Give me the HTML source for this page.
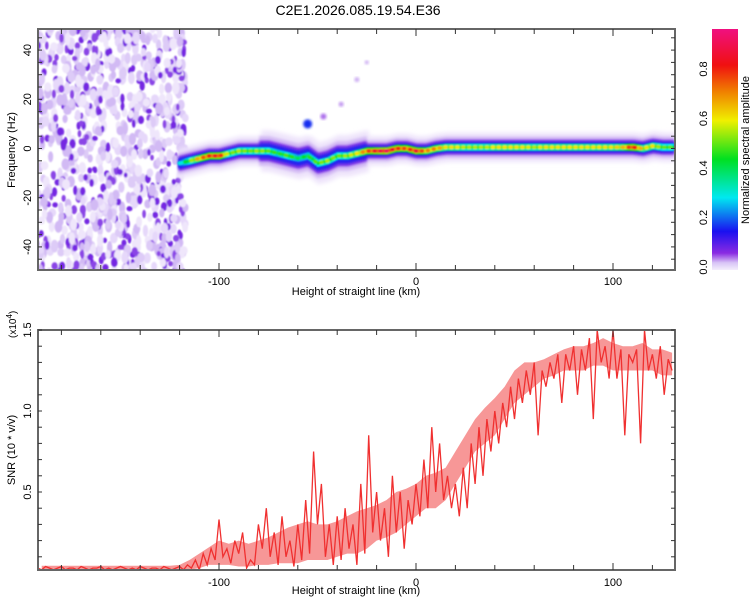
<!DOCTYPE html>
<html><head><meta charset="utf-8"><style>
body{margin:0;background:#fff;}
svg{display:block;font-family:"Liberation Sans",sans-serif;}
</style></head><body>
<svg id="root" width="750" height="600" viewBox="0 0 750 600">
<defs>
<filter id="blur0" x="-30%" y="-30%" width="160%" height="160%"><feGaussianBlur stdDeviation="0.7"/></filter>
<filter id="blur1" x="-20%" y="-20%" width="140%" height="140%"><feGaussianBlur stdDeviation="1.2"/></filter>
<filter id="blur2" x="-20%" y="-50%" width="140%" height="200%"><feGaussianBlur stdDeviation="2"/></filter>
<linearGradient id="cbgrad" x1="0" y1="1" x2="0" y2="0">
<stop offset="0" stop-color="#f4eefc"/><stop offset="0.03" stop-color="#d8c4f6"/><stop offset="0.07" stop-color="#8a2be2"/>
<stop offset="0.16" stop-color="#1a10f0"/><stop offset="0.30" stop-color="#00e8f0"/><stop offset="0.46" stop-color="#00e020"/>
<stop offset="0.62" stop-color="#f0f000"/><stop offset="0.74" stop-color="#f08000"/><stop offset="0.85" stop-color="#f01010"/>
<stop offset="1" stop-color="#f01080"/></linearGradient>
<clipPath id="clipTop"><rect x="38" y="29" width="637" height="241"/></clipPath>
<clipPath id="clipBot"><rect x="38" y="330" width="637" height="240"/></clipPath>
</defs>
<text x="358" y="15" font-size="14" text-anchor="middle">C2E1.2026.085.19.54.E36</text>
<g id="topPlot" clip-path="url(#clipTop)"></g>
<g id="botPlot" clip-path="url(#clipBot)"></g>
<g id="axes"></g>
<rect x="712" y="29" width="26" height="241" fill="url(#cbgrad)"/>
<text transform="translate(749,150) rotate(-90)" font-size="11" text-anchor="middle">Normalized spectral amplitude</text>
</svg>
<script>
// ---- data ----
const snrStartKm = -192, snrStepKm = 2;
const snrValues = [
0.03,0.02,0.04,0.03,0.02,0.03,0.04,0.02,0.03,0.03,0.02,0.04,0.03,0.02,0.03,0.03,0.04,0.02,0.03,0.02,0.03,0.04,0.03,0.02,0.03,0.02,0.04,0.03,0.02,0.03,0.03,0.02,0.04,0.03,0.02,0.03,
0.04,0.02,0.05,0.03,0.08,0.02,0.12,0.05,0.15,0.08,
0.33,0.10,0.15,0.06,0.20,0.12,0.25,0.03,0.08,0.05,
0.30,0.15,0.40,0.10,0.25,0.05,0.35,0.10,0.20,0.04,
0.30,0.08,0.45,0.12,0.75,0.30,0.55,0.10,0.30,0.05,
0.35,0.08,0.40,0.15,0.30,0.05,0.55,0.12,0.85,0.25,
0.50,0.20,0.40,0.10,0.60,0.25,0.50,0.15,0.45,0.30,
0.55,0.35,0.70,0.40,0.90,0.50,0.80,0.45,0.60,0.40,
0.55,0.35,0.65,0.40,0.80,0.55,0.90,0.60,0.95,0.75,
1.00,0.80,1.05,0.90,1.15,0.95,1.20,1.05,1.25,1.10,
1.30,0.85,1.25,1.15,1.30,1.20,1.35,1.05,1.35,1.25,
1.40,1.10,1.38,1.25,1.45,0.95,1.50,1.30,1.40,1.20,
1.50,1.20,1.38,0.85,1.35,1.30,1.38,0.80,1.50,1.25,
1.35,1.20,1.40,1.10,1.32,1.25];
const envStartKm = -190, envStepKm = 5;
const snrUpper = [0.045,0.045,0.045,0.045,0.045,0.045,0.045,0.045,0.045,0.045,0.045,0.045,0.045,0.045,
0.05,0.08,0.12,0.16,0.2,0.18,0.2,0.18,0.2,0.22,0.25,0.28,0.3,0.32,0.3,0.3,0.32,0.35,0.38,0.4,0.42,0.45,0.5,0.52,0.55,0.6,0.62,0.65,0.75,0.85,0.95,1.02,1.08,1.15,1.25,1.3,1.3,1.32,1.35,1.38,1.4,1.4,1.42,1.45,1.42,1.4,1.4,1.42,1.38,1.38,1.36];
const snrLower = [0.015,0.015,0.015,0.015,0.015,0.015,0.015,0.015,0.015,0.015,0.015,0.015,0.015,0.015,
0.02,0.02,0.03,0.05,0.05,0.05,0.04,0.04,0.05,0.05,0.06,0.06,0.06,0.08,0.08,0.08,0.1,0.12,0.12,0.15,0.2,0.22,0.25,0.3,0.35,0.4,0.4,0.45,0.55,0.65,0.75,0.8,0.85,0.95,1.05,1.1,1.15,1.2,1.22,1.25,1.25,1.25,1.28,1.28,1.25,1.25,1.25,1.25,1.25,1.22,1.22];
const ridgeStartKm = -120, ridgeStepKm = 5;
const ridgeFreq = [-6,-5,-4,-3,-3,-2,-1,-1,-1,-1,-2,-3,-4,-3,-6,-5,-3,-3,-2,-1,-1,-1,0,0,-1,-1,0,0.5,0.5,0.5,0.5,0.5,0.5,0.5,0.5,0.5,0.5,0.5,0.5,0.5,0.5,0.5,0.5,0.5,0.5,0.5,0.5,0,1,0.5,0.5];
const ridgeAmp = [0.3,0.5,0.7,0.8,0.85,0.5,0.55,0.5,0.55,0.5,0.45,0.5,0.4,0.45,0.5,0.55,0.5,0.55,0.6,0.75,0.85,0.9,0.8,0.75,0.85,0.7,0.7,0.6,0.6,0.55,0.55,0.55,0.6,0.6,0.6,0.6,0.55,0.6,0.6,0.6,0.6,0.6,0.6,0.6,0.6,0.65,0.85,0.6,0.6,0.5,0.5];
const xTicks = [-100,0,100];
const yTicksTop = [40,20,0,-20,-40];
const yTicksBot = [0.5,1.0,1.5];
const cbTicks = [0.0,0.2,0.4,0.6,0.8];

// ---- scales ----
const xs = km => 416 + km*1.97;
const yf = f => 148.5 - f*2.46;
const ys = v => 573 - v*162;
const ycb = v => 267 - v*247.5;
const NS='http://www.w3.org/2000/svg';
function mk(tag, attrs, parent){const e=document.createElementNS(NS,tag);for(const k in attrs)e.setAttribute(k,attrs[k]);parent.appendChild(e);return e;}
function cmap(v){
  const st=[[0,[216,196,246]],[0.07,[138,43,226]],[0.16,[26,16,240]],[0.30,[0,232,240]],[0.46,[0,224,32]],[0.62,[240,240,0]],[0.74,[240,128,0]],[0.85,[240,16,16]],[1,[240,16,128]]];
  for(let i=1;i<st.length;i++){if(v<=st[i][0]){const t=(v-st[i-1][0])/(st[i][0]-st[i-1][0]);const a=st[i-1][1],b=st[i][1];return `rgb(${a.map((c,j)=>Math.round(c+(b[j]-c)*t)).join(',')})`;}}
  return 'rgb(240,16,128)';
}
const topG=document.getElementById('topPlot');
// noise texture (left region)
let seed=12345;function rnd(){seed=(seed*1103515245+12345)%2147483648;return seed/2147483648;}
const noise=mk('g',{filter:'url(#blur0)'},topG);


const ncol=['#efe6fb','#e6d8fa','#ddcbf7','#d2baf4','#8a44e6','#7428e2'];
for(let i=0;i<1000;i++){
  const km=-194+rnd()*77, f=-51+rnd()*102;
  const ci=Math.floor(rnd()*ncol.length);const c=ncol[ci];
  const big=ci<4;
  mk('ellipse',{cx:xs(km),cy:yf(f),rx:(big?2.5:1.8)+rnd()*1.5,ry:(big?4:2.5)+rnd()*2.5,fill:c},noise);
}
// ridge
const ridge=mk('g',{},topG);


function ridgeAt(km){const p=(km-ridgeStartKm)/ridgeStepKm;const i=Math.max(0,Math.min(ridgeFreq.length-2,Math.floor(p)));const t=Math.max(0,Math.min(1,p-i));
 return [ridgeFreq[i]+(ridgeFreq[i+1]-ridgeFreq[i])*t, ridgeAmp[i]+(ridgeAmp[i+1]-ridgeAmp[i])*t];}
const layers=[[6,'#eee4fb',2,'url(#blur2)'],[4.3,'#d4bcf4',1,'url(#blur1)'],[3,'#7a30e6',1,'url(#blur1)'],[2.1,'#2020f0',1,'url(#blur1)']];
const last=ridgeStartKm+ridgeStepKm*(ridgeFreq.length-1);
layers.forEach(([hw,col,step,flt])=>{const g=mk('g',{filter:flt},ridge);
  for(let km=ridgeStartKm;km<=last;km+=step){const [f,a]=ridgeAt(km);const w=(km>-80&&km<-25)?1.4:1;
    mk('rect',{x:xs(km)-1.2,y:yf(f+hw*w),width:step*1.97+1.4,height:hw*w*2*2.46,fill:col},g);}});
const core=mk('g',{filter:'url(#blur0)'},ridge);
for(let km=ridgeStartKm;km<=last;km+=1){const [f,a]=ridgeAt(km);
  mk('rect',{x:xs(km)-1,y:yf(f+1.5),width:3.2,height:3*2.46,fill:cmap(a*0.6)},core);}
for(let km=ridgeStartKm;km<=last;km+=1){const [f,a]=ridgeAt(km);
  mk('rect',{x:xs(km)-1,y:yf(f+0.7),width:3.2,height:1.4*2.46,fill:cmap(a*0.9)},core);}
for(let km=ridgeStartKm;km<=last;km+=3){const [f,a]=ridgeAt(km);
  mk('ellipse',{cx:xs(km),cy:yf(f),rx:2.3,ry:2,fill:cmap(Math.min(1,a*1.05))},core);}
// isolated blobs
[[-55,10,0.18,4.5],[-47,13,0.04,3],[-38,18,0.02,2.5],[-30,28,0.01,2.5],[-25,35,0.01,2]].forEach(([k,f,a,r])=>{
  const e=mk('ellipse',{cx:xs(k),cy:yf(f),rx:r,ry:r,fill:cmap(a),filter:'url(#blur1)'},topG);
  
  });
// SNR band + line
const botG=document.getElementById('botPlot');
const up=snrUpper.map((v,i)=>`${xs(envStartKm+i*envStepKm).toFixed(1)},${ys(v).toFixed(1)}`);
const lo=snrLower.map((v,i)=>`${xs(envStartKm+i*envStepKm).toFixed(1)},${ys(v).toFixed(1)}`).reverse();
const band=mk('polygon',{points:up.concat(lo).join(' '),fill:'#f03030',opacity:0.5},botG);


const pts=snrValues.map((v,i)=>`${xs(snrStartKm+i*snrStepKm).toFixed(1)},${ys(v).toFixed(1)}`).join(' ');
const line=mk('polyline',{points:pts,fill:'none',stroke:'#f03030','stroke-width':1.3},botG);


// axes
const ax=document.getElementById('axes');
function frame(y0,y1,name){
  const r=mk('rect',{x:38,y:y0,width:637,height:y1-y0,fill:'none',stroke:'#666','stroke-width':2},ax);
  
  
  for(let km=-180;km<=120;km+=20){const big=xTicks.includes(km);const l=big?7:5;
    mk('line',{x1:xs(km),x2:xs(km),y1:y0,y2:y0+l,stroke:'#333','stroke-width':1},ax);
    mk('line',{x1:xs(km),x2:xs(km),y1:y1,y2:y1-l,stroke:'#333','stroke-width':1},ax);}
}
frame(29,270,'spectrogram-frame');frame(330,570,'snr-frame');
for(let f=-45;f<=45;f+=5){mk('line',{x1:38,x2:42,y1:yf(f),y2:yf(f),stroke:'#333'},ax);mk('line',{x1:675,x2:671,y1:yf(f),y2:yf(f),stroke:'#333'},ax);}
for(let v=0.1;v<1.55;v+=0.1){mk('line',{x1:38,x2:42,y1:ys(v),y2:ys(v),stroke:'#333'},ax);mk('line',{x1:675,x2:671,y1:ys(v),y2:ys(v),stroke:'#333'},ax);}
xTicks.forEach(k=>{
  let t=mk('text',{x:xs(k),y:285,'font-size':11,'text-anchor':'middle'},ax);t.textContent=k;
  
  
  t=mk('text',{x:xs(k),y:586,'font-size':11,'text-anchor':'middle'},ax);t.textContent=k;
  
  });
yTicksTop.forEach(f=>{const t=mk('text',{transform:`translate(31,${yf(f)}) rotate(-90)`,'font-size':11,'text-anchor':'middle'},ax);t.textContent=f;
  
  });
yTicksBot.forEach(v=>{const t=mk('text',{transform:`translate(31,${ys(v)}) rotate(-90)`,'font-size':11,'text-anchor':'middle'},ax);t.textContent=v.toFixed(1);
  
  });
cbTicks.forEach(v=>{const t=mk('text',{transform:`translate(707,${ycb(v)}) rotate(-90)`,'font-size':11,'text-anchor':'middle'},ax);t.textContent=v.toFixed(1);
  
  });
function lbl(txt,attrs,name){const t=mk('text',attrs,ax);t.textContent=txt;return t;}
lbl('Height of straight line (km)',{x:356,y:295,'font-size':11,'text-anchor':'middle'},'x-axis-title-top');
lbl('Height of straight line (km)',{x:356,y:594,'font-size':11,'text-anchor':'middle'},'x-axis-title-bottom');
lbl('Frequency (Hz)',{transform:'translate(15,150) rotate(-90)','font-size':11,'text-anchor':'middle'},'y-axis-title-top');
lbl('SNR (10 * v/v)',{transform:'translate(15,450) rotate(-90)','font-size':11,'text-anchor':'middle'},'y-axis-title-bottom');
const ex=lbl('(x10',{transform:'translate(16,338) rotate(-90)','font-size':10,'text-anchor':'start'},'y-axis-multiplier');
const sup=mk('tspan',{dy:-4,'font-size':8},ex);sup.textContent='4';
const cl=mk('tspan',{dy:4},ex);cl.textContent=')';
</script>
</body></html>
